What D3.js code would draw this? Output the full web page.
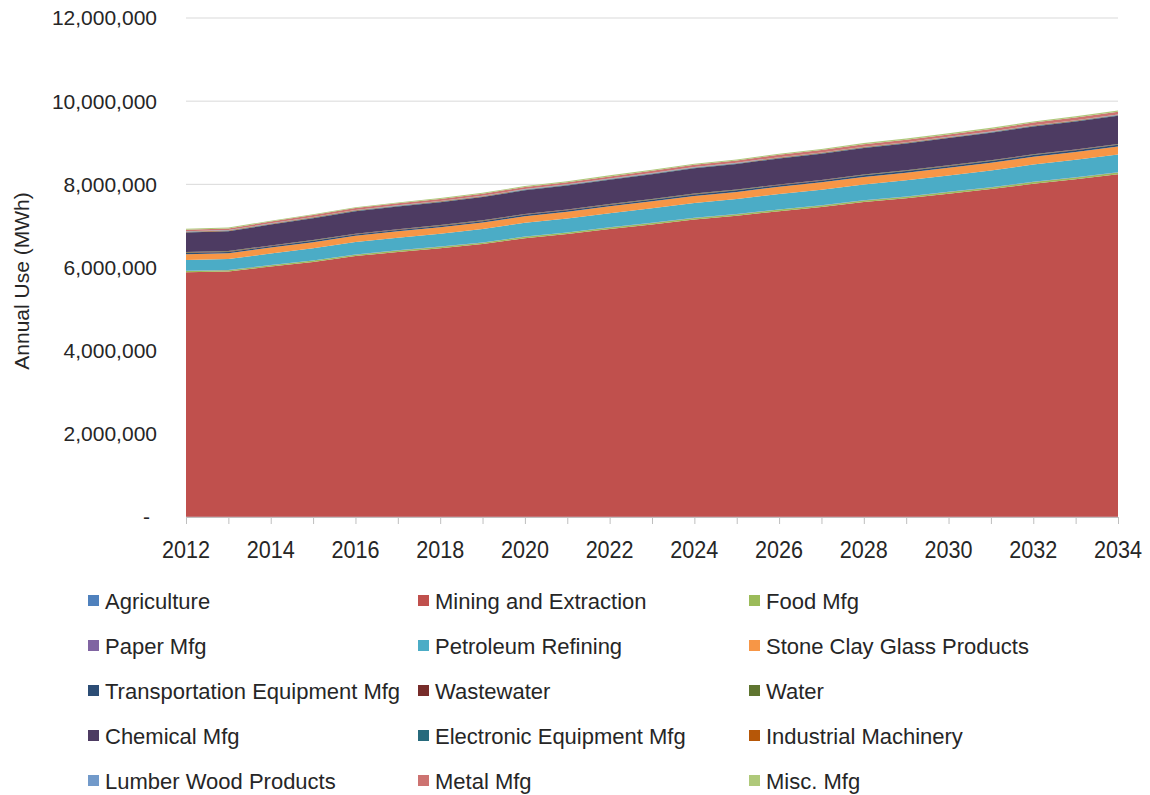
<!DOCTYPE html>
<html><head><meta charset="utf-8">
<script src="https://cdn.jsdelivr.net/npm/d3@7/dist/d3.min.js"></script>
<style>body{margin:0;background:#fff;} text{font-family:"Liberation Sans",Arial,sans-serif;fill:#262626;}</style>
</head><body><svg id="chart" width="1150" height="795"></svg>
<script>
const years = [2012,2013,2014,2015,2016,2017,2018,2019,2020,2021,2022,2023,2024,2025,2026,2027,2028,2029,2030,2031,2032,2033,2034];
const seriesNames = ["Agriculture","Mining and Extraction","Food Mfg","Paper Mfg","Petroleum Refining","Stone Clay Glass Products","Transportation Equipment Mfg","Wastewater","Water","Chemical Mfg","Electronic Equipment Mfg","Industrial Machinery","Lumber Wood Products","Metal Mfg","Misc. Mfg"];
const seriesColors = ["#4F81BD","#C0504D","#9BBB59","#8064A2","#4BACC6","#F79646","#2C4D75","#772C2A","#5F7530","#4D3B62","#276A7C","#B65708","#729ACA","#CD7371","#AFC97A"];
// values in MWh
const agriculture = [5000,5000,5000,5000,5000,5000,5000,5000,5000,5000,5000,5000,5000,5000,5000,5000,5000,5000,5000,5000,5000,5000,5000];
const mining = [5880000,5900000,6020000,6130000,6270000,6370000,6460000,6560000,6700000,6800000,6920000,7030000,7150000,7240000,7350000,7450000,7570000,7660000,7770000,7880000,8010000,8120000,8240000];
const food = [30000,30000,31000,31000,32000,32000,33000,33000,34000,34000,35000,35000,36000,36000,37000,37000,38000,38000,39000,39000,40000,40000,40000];
const paper = [5000,5000,5000,5000,5000,5000,5000,5000,5000,5000,5000,5000,5000,5000,5000,5000,5000,5000,5000,5000,5000,5000,5000];
const petroleum = [260000,265000,275000,290000,300000,305000,310000,320000,330000,335000,340000,350000,355000,360000,370000,375000,380000,390000,395000,405000,415000,420000,430000];
const stone = [140000,140000,145000,148000,150000,152000,155000,157000,160000,162000,165000,167000,170000,172000,175000,177000,180000,182000,184000,186000,188000,189000,190000];
const transport = [30000,30000,31000,32000,32000,33000,33000,34000,34000,35000,35000,36000,36000,37000,37000,38000,38000,39000,39000,40000,40000,40000,40000];
const wastewater = [10000,10000,10000,10000,10000,10000,10000,10000,10000,10000,10000,10000,10000,10000,10000,10000,10000,10000,10000,10000,10000,10000,10000];
const water = [10000,10000,10000,10000,10000,10000,10000,10000,10000,10000,10000,10000,10000,10000,10000,10000,10000,10000,10000,10000,10000,10000,10000];
const chemical = [470000,475000,500000,525000,540000,545000,550000,560000,570000,575000,585000,595000,610000,615000,625000,630000,640000,645000,655000,660000,670000,675000,680000];
const electronic = [10000,10000,10000,10000,10000,10000,10000,10000,10000,10000,10000,10000,10000,10000,10000,10000,10000,10000,10000,10000,10000,10000,10000];
const industrial = [10000,10000,10000,10000,10000,10000,10000,10000,10000,10000,10000,10000,10000,10000,10000,10000,10000,10000,10000,10000,10000,10000,10000];
const lumber = [10000,10000,10000,10000,10000,10000,10000,10000,10000,10000,10000,10000,10000,10000,10000,10000,10000,10000,10000,10000,10000,10000,10000];
const metal = [40000,40000,42000,44000,45000,46000,47000,48000,49000,50000,51000,52000,53000,54000,55000,56000,57000,58000,59000,60000,61000,62000,63000];
const misc = [20000,20000,21000,21000,22000,22000,23000,23000,24000,24000,25000,25000,26000,26000,27000,27000,28000,28000,29000,29000,30000,30000,30000];
const yTicks = [0,2000000,4000000,6000000,8000000,10000000,12000000];
const xLabelYears = [2012,2014,2016,2018,2020,2022,2024,2026,2028,2030,2032,2034];

const seriesValues = [agriculture,mining,food,paper,petroleum,stone,transport,wastewater,water,chemical,electronic,industrial,lumber,metal,misc];
const table = years.map((yr,i)=>{const o={year:yr}; seriesNames.forEach((n,k)=>o[n]=seriesValues[k][i]); return o;});

const svg = d3.select("#chart");
const L=186,R=1118,T=18,B=517;
const x = d3.scaleLinear().domain([2012,2034]).range([L,R]);
const y = d3.scaleLinear().domain([0,12000000]).range([B,T]);

// grid
svg.append("g").selectAll("line").data(yTicks.filter(d=>d>0)).join("line")
  .attr("x1",L).attr("x2",R).attr("y1",d=>y(d)).attr("y2",d=>y(d))
  .attr("stroke","#d9d9d9").attr("stroke-width",1);

const stack = d3.stack().keys(seriesNames);
const layers = stack(table);
const area = d3.area().x(d=>x(d.data.year)).y0(d=>y(d[0])).y1(d=>y(d[1]));
svg.append("g").selectAll("path").data(layers).join("path")
  .attr("d",area).attr("fill",(d,i)=>seriesColors[i]);

// x axis
const xAxis = d3.axisBottom(x).tickValues(years).tickSize(7).tickFormat("");
const gx = svg.append("g").attr("transform",`translate(0,${B})`).call(xAxis);
gx.select(".domain").attr("stroke","#bfbfbf");
gx.selectAll(".tick line").attr("stroke","#bfbfbf");
svg.append("g").selectAll("text").data(xLabelYears).join("text")
  .attr("x",d=>x(d)).attr("y",558).attr("text-anchor","middle")
  .attr("font-size",23).attr("textLength",48).attr("lengthAdjust","spacingAndGlyphs")
  .text(d=>d);

// y axis labels
const fmt = d=> d===0 ? "-" : d3.format(",")(d);
svg.append("g").selectAll("text").data(yTicks).join("text")
  .attr("x",d=> d===0?150:157).attr("y",d=>y(d)).attr("dy","0.35em").attr("text-anchor","end")
  .attr("font-size",21).text(fmt);

svg.append("text").attr("transform","translate(29,281) rotate(-90)").attr("text-anchor","middle")
  .attr("font-size",21).text("Annual Use (MWh)");

// legend
const colX=[88,418,749], rowY=[601,646,691,736,781];
const lg = svg.append("g").selectAll("g").data(seriesNames).join("g")
  .attr("transform",(d,i)=>`translate(${colX[i%3]},${rowY[Math.floor(i/3)]})`);
lg.append("rect").attr("x",0).attr("y",-6).attr("width",11).attr("height",11).attr("fill",(d,i)=>seriesColors[i]);
lg.append("text").attr("x",17).attr("dy","0.35em").attr("font-size",22).text(d=>d);
</script></body></html>
